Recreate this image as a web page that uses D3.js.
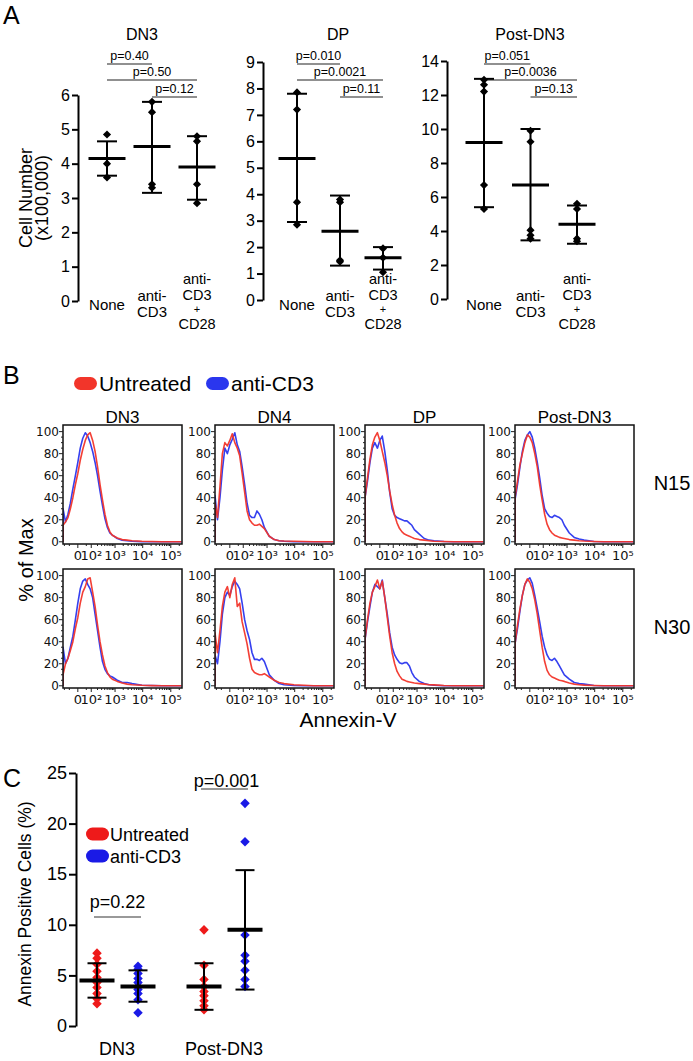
<!DOCTYPE html>
<html>
<head>
<meta charset="utf-8">
<script src="https://cdn.jsdelivr.net/npm/d3@7"></script>
<style>
  body { margin: 0; background: #fff; }
  svg { display: block; }
</style>
</head>
<body>
<div id="chart"></div>
<script>
// ---------- panel A data ----------
const groupsA = ["None", "anti-CD3", "anti-CD3+CD28"];
const groupLinesA = [["None"], ["anti-", "CD3"], ["anti-", "CD3", "+", "CD28"]];
const sigPairs = [[0, 1], [0, 2], [1, 2]];

const dn3Points = [[4.85, 4.0, 3.6], [5.8, 5.5, 3.4, 3.3], [4.8, 4.65, 3.4, 2.85]];
const dn3Mean = [4.15, 4.5, 3.9];
const dn3Hi = [4.65, 5.8, 4.8];
const dn3Lo = [3.65, 3.15, 2.95];
const dn3P = ["p=0.40", "p=0.50", "p=0.12"];

const dpPoints = [[7.85, 7.2, 3.7, 2.85], [3.8, 3.7, 1.5, 1.45], [1.95, 1.6, 1.05]];
const dpMean = [5.35, 2.6, 1.6];
const dpHi = [7.8, 3.95, 2.0];
const dpLo = [2.95, 1.3, 1.15];
const dpP = ["p=0.010", "p=0.0021", "p=0.11"];

const postPoints = [[12.9, 12.6, 12.2, 6.7, 5.3], [9.9, 9.25, 4.05, 3.75, 3.55], [5.6, 5.3, 3.55, 3.4]];
const postMean = [9.2, 6.7, 4.4];
const postHi = [12.95, 10.0, 5.5];
const postLo = [5.4, 3.45, 3.25];
const postP = ["p=0.051", "p=0.0036", "p=0.13"];

// ---------- panel B data ----------
const populationsB = ["DN3", "DN4", "DP", "Post-DN3"];
const rowsB = ["N15", "N30"];
const annexinBins = [-118, -87, -62, -42, -25, -11, 0, 11, 25, 42, 62, 87, 118, 155, 201, 257,
  325, 409, 512, 637, 791, 1210, 1835, 2770, 4170, 9400, 21150, 47400, 106150, 237750];
const annexinTicks = [0, 100, 1000, 10000, 100000];
const annexinTickLabels = ["0", "10²", "10³", "10⁴", "10⁵"];
const pctTicks = [0, 20, 40, 60, 80, 100];

const n15Untreated = [
  [15,18,22,30,40,52,62,74,84,92,97,99,92,82,68,52,38,25,15,9,6,3.5,2,1.5,1,0.5,0.3,0,0,0],
  [35,22,50,80,90,87,92,98,90,85,78,62,45,28,20,17,15,15,16,14,12,5,2,1,0.7,0.5,0.3,0,0,0],
  [40,58,75,88,95,99,92,82,72,60,46,34,24,17,12,9,7,6,5,4,3,2,1.5,1,0.5,0.3,0,0,0,0],
  [40,55,70,80,90,97,95,90,80,68,52,38,25,16,11,8,6,5,4,3.5,3,2,1.5,1,0.7,0.3,0,0,0,0]
];
const n15AntiCD3 = [
  [30,18,25,35,48,60,72,85,94,99,96,90,82,72,60,46,33,21,13,8,6,3,1.5,1,0.5,0,0,0,0,0],
  [42,20,40,65,85,80,88,93,99,88,82,68,52,35,24,22,22,28,25,20,13,5,2,1,0.5,0,0,0,0,0],
  [40,55,72,85,90,85,92,96,82,65,45,30,24,22,21,20,19,19,17,15,11,7,3,1.5,1,0.3,0,0,0,0],
  [38,52,68,82,92,97,100,95,85,72,58,42,30,26,23,22,24,23,22,20,15,8,4,2.5,1.5,0.3,0,0,0,0]
];
const n30Untreated = [
  [10,20,25,32,40,52,62,75,85,90,97,98,85,72,55,40,28,18,12,8,6,4,2.5,1.5,1,0.5,0.2,0,0,0],
  [48,30,50,72,85,90,80,92,98,72,75,58,48,38,25,15,12,11,10,10,11,8,5,3,2,1,0.5,0,0,0],
  [42,60,75,85,90,96,88,95,80,62,45,30,20,13,9,6,5,4,3.5,3,2.5,2,1.5,1,0.8,0.3,0,0,0,0],
  [38,55,70,82,92,97,94,88,78,65,50,35,22,14,10,8,7,6,5,4.5,4,2.5,1.5,1,0.6,0.3,0,0,0,0]
];
const n30AntiCD3 = [
  [35,20,25,35,45,60,75,88,95,97,92,88,80,65,50,35,22,15,11,9,8,5,3,3,2,0.5,0.3,0,0,0],
  [28,20,40,65,80,85,82,90,95,92,88,75,60,50,42,30,24,24,23,25,22,10,5,2,1,0.3,0,0,0,0],
  [42,58,72,85,92,90,88,96,80,65,48,35,28,24,21,20,21,21,18,12,8,4,2,1,0.5,0,0,0,0,0],
  [38,52,68,82,92,96,98,93,82,70,58,45,35,28,24,23,25,22,18,14,10,6,3,2,1.5,0.3,0,0,0,0]
];

// ---------- panel C data ----------
const populationsC = ["DN3", "Post-DN3"];
const treatmentsC = ["Untreated", "anti-CD3"];
const dn3UntreatedPts = [7.2, 6.7, 6.1, 5.4, 4.8, 4.3, 3.8, 3.2, 2.7, 2.2];
const dn3AntiPts = [5.9, 5.6, 5.2, 4.7, 4.3, 3.9, 3.6, 3.2, 2.6, 1.3];
const postUntreatedPts = [9.5, 6.0, 4.6, 3.9, 3.4, 3.0, 2.5, 2.0, 1.6];
const postAntiPts = [22.0, 18.2, 9.0, 7.0, 6.4, 5.5, 4.6, 3.9];
const cMean = [[4.5, 3.9], [3.9, 9.5]];
const cHi = [[6.2, 5.5], [6.2, 15.4]];
const cLo = [[2.8, 2.4], [1.6, 3.6]];
const cP = ["p=0.22", "p=0.001"];
const cTicks = [0, 5, 10, 15, 20, 25];

// ---------- drawing ----------
const W = 693, H = 1061;
const FONT = '"Liberation Sans", Arial, Helvetica, sans-serif';
const FLOW = '"DejaVu Sans", Verdana, sans-serif';
const RED = "#f2352a", BLUE = "#2a36ee";
const RED_C = "#ee1a1a", BLUE_C = "#1a1ae6";

const svg = d3.select("#chart").append("svg")
  .attr("width", W).attr("height", H)
  .attr("font-family", FONT);

function label(g, x, y, txt, size, anchor) {
  return g.append("text").attr("x", x).attr("y", y)
    .attr("font-size", size).attr("text-anchor", anchor || "middle")
    .attr("fill", "#000").text(txt);
}

const diamond = d3.symbol().type(d3.symbolDiamond2);

// panel letters
label(svg, 3, 24, "A", 25, "start");
label(svg, 3, 384, "B", 25, "start");
label(svg, 3, 787, "C", 25, "start");

// ----- Panel A -----
const plotsA = [
  { title: "DN3", titleX: 142, axisX: 78, y0: 301, yTop: 95, max: 6, step: 1, xr: [107, 197],
    pts: dn3Points, mean: dn3Mean, hi: dn3Hi, lo: dn3Lo, p: dn3P },
  { title: "DP", titleX: 338, axisX: 263, y0: 300, yTop: 62, max: 9, step: 1, xr: [297, 383],
    pts: dpPoints, mean: dpMean, hi: dpHi, lo: dpLo, p: dpP },
  { title: "Post-DN3", titleX: 530, axisX: 447, y0: 299, yTop: 61, max: 14, step: 2, xr: [484, 577],
    pts: postPoints, mean: postMean, hi: postHi, lo: postLo, p: postP }
];

// baselines and sizes for the stacked category labels
const catLayout = [
  [[310, 15]],
  [[301, 15], [317, 15]],
  [[284, 14.5], [300, 14.5], [313, 11], [328.5, 14.5]]
];

plotsA.forEach(cfg => {
  const g = svg.append("g");
  const y = d3.scaleLinear().domain([0, cfg.max]).range([cfg.y0, cfg.yTop]);
  const x = d3.scalePoint().domain(groupsA).range(cfg.xr);

  g.append("g").attr("transform", `translate(${cfg.axisX},0)`)
    .call(d3.axisLeft(y).tickValues(d3.range(0, cfg.max + 1, cfg.step))
      .tickFormat(d3.format("d")).tickSize(6).tickSizeOuter(0).tickPadding(2))
    .call(a => {
      a.select(".domain").attr("stroke-width", 2);
      a.selectAll(".tick line").attr("stroke-width", 2);
      a.selectAll(".tick text").attr("font-size", 16).attr("font-family", FONT).attr("fill", "#000");
    });

  label(g, cfg.titleX, 40, cfg.title, 16);

  // significance bars
  const sigY = [64, 80, 97];
  sigPairs.forEach((pr, i) => {
    const x1 = x(groupsA[pr[0]]), x2 = x(groupsA[pr[1]]);
    g.append("line").attr("x1", x1).attr("x2", x2).attr("y1", sigY[i]).attr("y2", sigY[i])
      .attr("stroke", "#222").attr("stroke-width", 1.2);
    label(g, (x1 + x2) / 2, sigY[i] - 4, cfg.p[i], 12.5);
  });

  groupsA.forEach((grp, i) => {
    const cx = x(grp);
    g.append("line").attr("x1", cx).attr("x2", cx).attr("y1", y(cfg.hi[i])).attr("y2", y(cfg.lo[i]))
      .attr("stroke", "#000").attr("stroke-width", 2);
    [cfg.hi[i], cfg.lo[i]].forEach(v => {
      g.append("line").attr("x1", cx - 10).attr("x2", cx + 10).attr("y1", y(v)).attr("y2", y(v))
        .attr("stroke", "#000").attr("stroke-width", 2);
    });
    g.selectAll(null).data(cfg.pts[i]).enter().append("path")
      .attr("d", diamond.size(42))
      .attr("transform", d => `translate(${cx},${y(d)})`)
      .attr("fill", "#000");
    g.append("line").attr("x1", cx - 18.5).attr("x2", cx + 18.5)
      .attr("y1", y(cfg.mean[i])).attr("y2", y(cfg.mean[i]))
      .attr("stroke", "#000").attr("stroke-width", 3);

    groupLinesA[i].forEach((s, k) => {
      const [by, fs] = catLayout[i][k];
      label(g, cx, by, s, fs);
    });
  });
});

label(svg, 0, 0, "Cell Number", 18)
  .attr("transform", "translate(32,198) rotate(-90)");
label(svg, 0, 0, "(x100,000)", 18)
  .attr("transform", "translate(48,198) rotate(-90)");

// ----- Panel B -----
const legB = svg.append("g");
[[74, "Untreated", RED], [206, "anti-CD3", BLUE]].forEach(([lx, t, c]) => {
  legB.append("rect").attr("x", lx).attr("y", 377).attr("width", 23).attr("height", 13)
    .attr("rx", 6.5).attr("fill", c);
  label(legB, lx + 25, 391, t, 21, "start");
});

const boxX = [63, 215, 365, 515];
const boxTop = [425, 569];
const boxW = 119, boxH = 119;
const histData = [[n15Untreated, n15AntiCD3], [n30Untreated, n30AntiCD3]];
const minorX = [-100, -50, 50, 200, 300, 400, 500, 600, 700, 800, 900, 2000, 3000, 4000, 5000,
  6000, 7000, 8000, 9000, 20000, 30000, 40000, 50000, 60000, 70000, 80000, 90000, 200000];

rowsB.forEach((row, r) => {
  populationsB.forEach((pop, c) => {
    const g = svg.append("g").attr("transform", `translate(${boxX[c]},${boxTop[r]})`);
    const x = d3.scaleSymlog().constant(50).domain([-118, 250000]).range([0, boxW]);
    const y = d3.scaleLinear().domain([-2, 106]).range([boxH, 0]);
    const clipId = `clip-${r}-${c}`;
    g.append("clipPath").attr("id", clipId).append("rect")
      .attr("width", boxW).attr("height", boxH);

    const line = d3.line().x(d => x(d[0])).y(d => y(d[1]));
    const [untr, anti] = histData[r];
    [[anti[c], BLUE], [untr[c], RED]].forEach(([vals, col]) => {
      const pts = [[annexinBins[0], 0]].concat(annexinBins.map((b, i) => [b, vals[i]]));
      g.append("path").attr("d", line(pts)).attr("clip-path", `url(#${clipId})`)
        .attr("fill", "none").attr("stroke", col).attr("stroke-width", 1.6)
        .attr("stroke-linejoin", "round").attr("opacity", 0.95);
    });

    g.append("rect").attr("width", boxW).attr("height", boxH)
      .attr("fill", "none").attr("stroke", "#111").attr("stroke-width", 1.5);

    // y ticks
    d3.range(0, 101, 5).forEach(v => {
      const major = v % 20 === 0;
      g.append("line").attr("x1", major ? -4 : -2).attr("x2", 0).attr("y1", y(v)).attr("y2", y(v))
        .attr("stroke", "#222").attr("stroke-width", 1);
    });
    pctTicks.forEach(v => {
      g.append("text").attr("x", -4).attr("y", y(v) + 4.5).attr("text-anchor", "end")
        .attr("font-family", FLOW).attr("font-size", 12).attr("fill", "#111").text(v);
    });
    // x ticks
    minorX.forEach(v => {
      g.append("line").attr("x1", x(v)).attr("x2", x(v)).attr("y1", boxH).attr("y2", boxH + 2)
        .attr("stroke", "#222").attr("stroke-width", 1);
    });
    annexinTicks.forEach((v, i) => {
      g.append("line").attr("x1", x(v)).attr("x2", x(v)).attr("y1", boxH).attr("y2", boxH + 4)
        .attr("stroke", "#222").attr("stroke-width", 1);
      g.append("text").attr("x", x(v)).attr("y", boxH + 16).attr("text-anchor", "middle")
        .attr("font-family", FLOW).attr("font-size", 13).attr("fill", "#111")
        .text(annexinTickLabels[i]);
    });

    if (r === 0) label(g, boxW / 2, -2, pop, 17);
  });
  label(svg, 672, boxTop[r] + 65, row, 20);
});

label(svg, 0, 0, "% of Max", 20).attr("transform", "translate(33,560) rotate(-90)");
label(svg, 348, 727, "Annexin-V", 21);

// ----- Panel C -----
const gC = svg.append("g");
const yC = d3.scaleLinear().domain([0, 25]).range([1026, 773]);
const xPop = d3.scaleBand().domain(populationsC).range([63.5, 277.5]);
const xTrt = d3.scalePoint().domain(treatmentsC).range([-20, 21]);
const cPts = [[dn3UntreatedPts, dn3AntiPts], [postUntreatedPts, postAntiPts]];

gC.append("g").attr("transform", "translate(76,0)")
  .call(d3.axisLeft(yC).tickValues(cTicks).tickSize(7).tickSizeOuter(0).tickPadding(2))
  .call(a => {
    a.select(".domain").attr("stroke-width", 2);
    a.selectAll(".tick line").attr("stroke-width", 2);
    a.selectAll(".tick text").attr("font-size", 18).attr("font-family", FONT).attr("fill", "#000");
  });

label(gC, 0, 0, "Annexin Positive Cells (%)", 17.5).attr("transform", "translate(31,904) rotate(-90)");

populationsC.forEach((pop, pi) => {
  const center = xPop(pop) + xPop.bandwidth() / 2;
  label(gC, center, 1055, pop, 18);
  treatmentsC.forEach((trt, ti) => {
    const cx = center + xTrt(trt);
    const col = ti === 0 ? RED_C : BLUE_C;
    gC.selectAll(null).data(cPts[pi][ti]).enter().append("path")
      .attr("d", diamond.size(58))
      .attr("transform", d => `translate(${cx},${yC(d)})`)
      .attr("fill", col);
    gC.append("line").attr("x1", cx).attr("x2", cx).attr("y1", yC(cHi[pi][ti])).attr("y2", yC(cLo[pi][ti]))
      .attr("stroke", "#000").attr("stroke-width", 2);
    [cHi[pi][ti], cLo[pi][ti]].forEach(v => {
      gC.append("line").attr("x1", cx - 9.5).attr("x2", cx + 9.5).attr("y1", yC(v)).attr("y2", yC(v))
        .attr("stroke", "#000").attr("stroke-width", 2);
    });
    gC.append("line").attr("x1", cx - 17.5).attr("x2", cx + 17.5)
      .attr("y1", yC(cMean[pi][ti])).attr("y2", yC(cMean[pi][ti]))
      .attr("stroke", "#000").attr("stroke-width", 4);
  });
});

// significance in C
const sigC = [[populationsC[0], 917, 908], [populationsC[1], 789, 787]];
sigC.forEach(([pop, ly, ty], i) => {
  const center = xPop(pop) + xPop.bandwidth() / 2;
  const x1 = center + xTrt(treatmentsC[0]) - 3, x2 = center + xTrt(treatmentsC[1]) + 3;
  gC.append("line").attr("x1", x1).attr("x2", x2).attr("y1", ly).attr("y2", ly)
    .attr("stroke", "#777").attr("stroke-width", 1.4);
  label(gC, (x1 + x2) / 2 + (i ? 2 : 0), ty, cP[i], 18);
});

// legend C
[[834, "Untreated", RED_C], [856, "anti-CD3", BLUE_C]].forEach(([cy, t, c]) => {
  gC.append("rect").attr("x", 86).attr("y", cy - 6.5).attr("width", 23).attr("height", 13)
    .attr("rx", 6.5).attr("fill", c);
  label(gC, 110, cy + 6.5, t, 18, "start");
});
</script>
</body>
</html>
